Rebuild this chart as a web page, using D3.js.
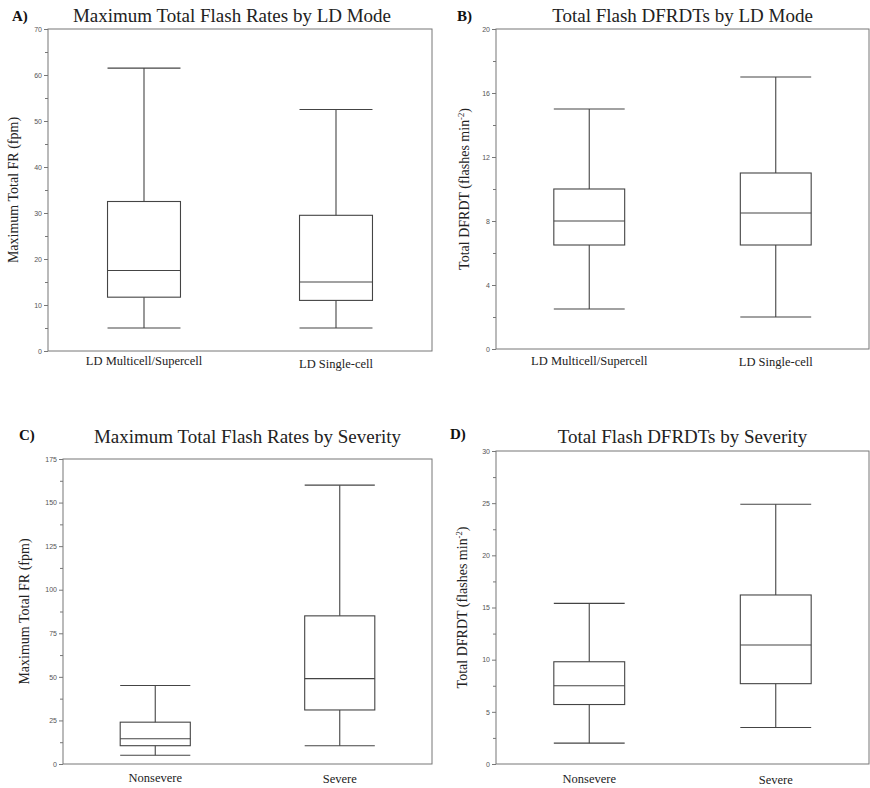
<!DOCTYPE html>
<html>
<head>
<meta charset="utf-8">
<script src="https://cdn.jsdelivr.net/npm/d3@7"></script>
<style>
  body { margin: 0; background: #fff; }
  svg { display: block; }
  .tick text { font-family: "Liberation Sans", Arial, sans-serif; font-size: 7px; fill: #555; }
  .tick line { stroke: #777; }
  .domain { stroke: #777; }
</style>
</head>
<body>
<div id="chart"></div>
<script>
// categories for each pair of panels
const ldModes = ['LD Multicell/Supercell', 'LD Single-cell'];
const severity = ['Nonsevere', 'Severe'];

// box stats: [min, q1, median, q3, max]
const frLdMode = [[5, 11.7, 17.5, 32.5, 61.5], [5, 11, 15, 29.5, 52.5]];
const dfrdtLdMode = [[2.5, 6.5, 8, 10, 15], [2, 6.5, 8.5, 11, 17]];
const frSeverity = [[5, 10.5, 14.5, 24, 45], [10.5, 31, 49, 85, 160]];
const dfrdtSeverity = [[2, 5.7, 7.5, 9.8, 15.4], [3.5, 7.7, 11.4, 16.2, 24.9]];

// y axis ticks
const frLdTicks = [0, 10, 20, 30, 40, 50, 60, 70];
const dfrdtLdTicks = [0, 4, 8, 12, 16, 20];
const frSevTicks = [0, 25, 50, 75, 100, 125, 150, 175];
const dfrdtSevTicks = [0, 5, 10, 15, 20, 25, 30];

const titles = [
  'Maximum Total Flash Rates by LD Mode',
  'Total Flash DFRDTs by LD Mode',
  'Maximum Total Flash Rates by Severity',
  'Total Flash DFRDTs by Severity'
];
const panelLetters = ['A)', 'B)', 'C)', 'D)'];
const frLabel = 'Maximum Total FR (fpm)';

const width = 870, height = 788;
const svg = d3.select('#chart').append('svg')
  .attr('width', width)
  .attr('height', height);

const serif = '"Liberation Serif", "DejaVu Serif", serif';

// layout of each panel (plot frame in px)
const panels = [
  { cats: ldModes, stats: frLdMode, ticks: frLdTicks, frame: [48, 29, 432, 351],
    letter: [12, 21], titleY: 22, ylabX: 18, catY: [365, 368], dfrdt: false },
  { cats: ldModes, stats: dfrdtLdMode, ticks: dfrdtLdTicks, frame: [496, 29, 869, 349],
    letter: [457, 21], titleY: 22, ylabX: 469, catY: [365, 366], dfrdt: true },
  { cats: severity, stats: frSeverity, ticks: frSevTicks, frame: [63, 459, 432, 764],
    letter: [19, 440], titleY: 443, ylabX: 29, catY: [782, 783], dfrdt: false },
  { cats: severity, stats: dfrdtSeverity, ticks: dfrdtSevTicks, frame: [496, 451, 869, 764],
    letter: [450, 439], titleY: 443, ylabX: 467, catY: [783, 784], dfrdt: true }
];

panels.forEach((p, i) => {
  const [x0, y0, x1, y1] = p.frame;
  const g = svg.append('g');

  const x = d3.scaleBand().domain(p.cats).range([x0, x1]).padding(0);
  const y = d3.scaleLinear().domain([0, d3.max(p.ticks)]).range([y1, y0]);
  const step = p.ticks[1] - p.ticks[0];
  const minor = p.ticks.slice(0, -1).map(t => t + step / 2);

  // frame
  g.append('rect')
    .attr('x', x0).attr('y', y0)
    .attr('width', x1 - x0).attr('height', y1 - y0)
    .attr('fill', 'none').attr('stroke', '#777').attr('stroke-width', 1);

  // minor ticks
  g.append('g')
    .attr('transform', `translate(${x0},0)`)
    .call(d3.axisLeft(y).tickValues(minor).tickSize(3).tickFormat(''))
    .call(a => a.select('.domain').remove());

  // major ticks
  g.append('g')
    .attr('transform', `translate(${x0},0)`)
    .call(d3.axisLeft(y).tickValues(p.ticks).tickSize(4).tickPadding(2))
    .call(a => a.select('.domain').remove());

  // boxes
  const bw = x.bandwidth() * 0.38;
  p.stats.forEach((s, j) => {
    const cx = x(p.cats[j]) + x.bandwidth() / 2;
    const [mn, q1, md, q3, mx] = s;
    const bg = g.append('g').attr('stroke', '#444').attr('stroke-width', 1.1).attr('fill', 'none');
    bg.append('line').attr('x1', cx).attr('x2', cx).attr('y1', y(mn)).attr('y2', y(q1));
    bg.append('line').attr('x1', cx).attr('x2', cx).attr('y1', y(q3)).attr('y2', y(mx));
    [mn, mx, md].forEach(v => {
      bg.append('line').attr('x1', cx - bw / 2).attr('x2', cx + bw / 2).attr('y1', y(v)).attr('y2', y(v));
    });
    bg.append('rect').attr('x', cx - bw / 2).attr('y', y(q3))
      .attr('width', bw).attr('height', y(q1) - y(q3));

    g.append('text')
      .attr('x', cx).attr('y', p.catY[j])
      .attr('text-anchor', 'middle')
      .attr('font-family', serif).attr('font-size', 12.5).attr('fill', '#222')
      .text(p.cats[j]);
  });

  // title and letter
  g.append('text')
    .attr('x', (x0 + x1) / 2 - (i === 0 ? 8 : 0)).attr('y', p.titleY)
    .attr('text-anchor', 'middle')
    .attr('font-family', serif).attr('font-size', 19).attr('fill', '#222')
    .text(titles[i]);
  g.append('text')
    .attr('x', p.letter[0]).attr('y', p.letter[1])
    .attr('font-family', serif).attr('font-weight', 'bold').attr('font-size', 15).attr('fill', '#111')
    .text(panelLetters[i]);

  // y label
  const yl = g.append('text')
    .attr('transform', `translate(${p.ylabX},${(y0 + y1) / 2}) rotate(-90)`)
    .attr('text-anchor', 'middle')
    .attr('font-family', serif).attr('font-size', 14).attr('fill', '#222');
  if (p.dfrdt) {
    yl.append('tspan').text('Total DFRDT (flashes min');
    yl.append('tspan').attr('dy', -5).attr('font-size', 8.5).text('-2');
    yl.append('tspan').attr('dy', 5).text(')');
  } else {
    yl.text(frLabel);
  }
});
</script>
</body>
</html>
